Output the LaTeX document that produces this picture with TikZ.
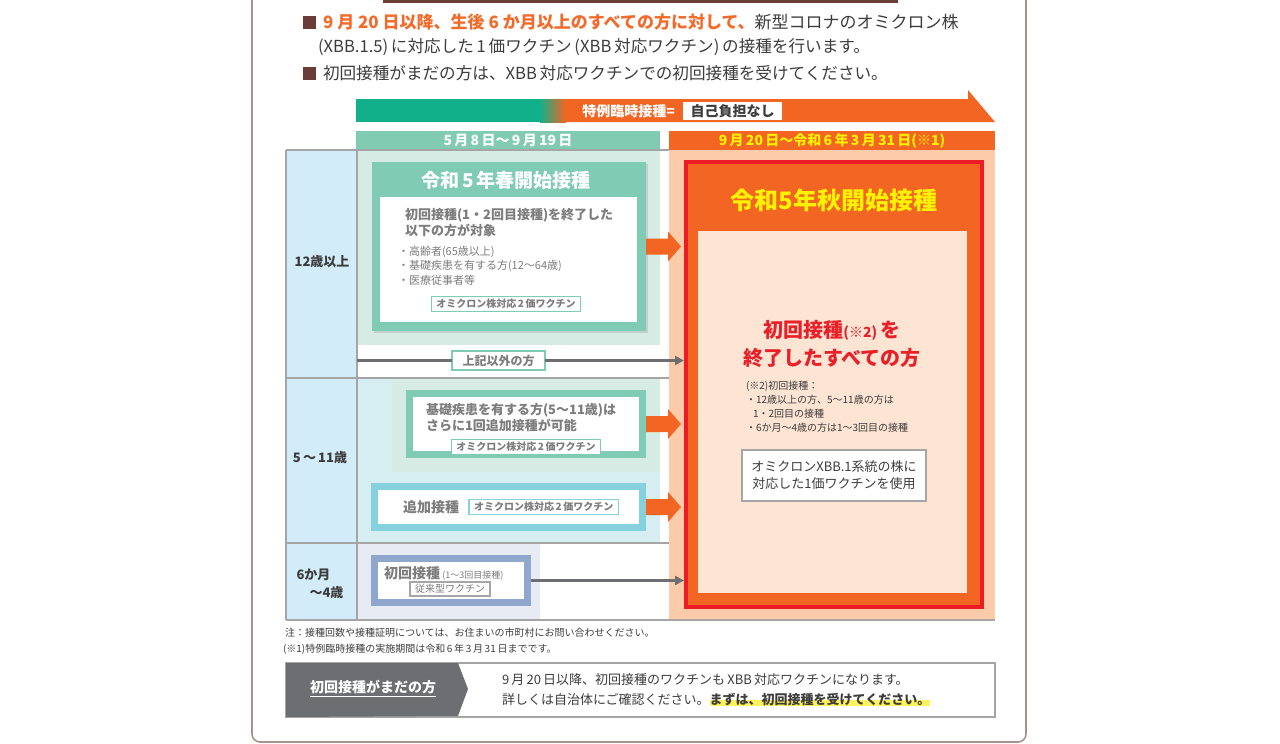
\documentclass[tikz,border=0pt]{standalone}
\usepackage{fontspec}
\setmainfont{Noto Sans CJK JP}
\usetikzlibrary{positioning,arrows.meta,shadows,backgrounds}

\definecolor{brownsq}{HTML}{6B3D38}
\definecolor{framebrown}{HTML}{A8928C}
\definecolor{hdorange}{HTML}{F26B2A}
\definecolor{txtdark}{HTML}{3C3C3C}
\definecolor{txtgrey}{HTML}{7D7D7D}
\definecolor{bandgreen}{HTML}{12B08A}
\definecolor{bandorange}{HTML}{F26522}
\definecolor{pergreen}{HTML}{80CBB2}
\definecolor{bggreen}{HTML}{D6EBE3}
\definecolor{boxgreen}{HTML}{80CBB4}
\definecolor{agecol}{HTML}{D2EDF9}
\definecolor{bgcyan}{HTML}{D6EEF2}
\definecolor{boxcyan}{HTML}{85D1DD}
\definecolor{bgblue}{HTML}{E7ECF4}
\definecolor{boxblue}{HTML}{8FA7CD}
\definecolor{peach}{HTML}{FCCBAA}
\definecolor{framered}{HTML}{ED1C24}
\definecolor{pale}{HTML}{FDE4D3}
\definecolor{gridgrey}{HTML}{A5A5A5}
\definecolor{sunyellow}{HTML}{FFF200}
\definecolor{labelgrey}{HTML}{6D6E71}
\definecolor{hilite}{HTML}{FFF35C}
\definecolor{redtext}{HTML}{E8202A}

\begin{document}
\begin{tikzpicture}[x=0.5pt,y=-0.5pt,
        every node/.style={inner sep=0pt,outer sep=0pt,text=txtdark},
        square/.style={fill=brownsq,minimum size=6.5pt},
        lead/.style={anchor=west,font=\fontsize{8.3}{10}\selectfont},
        band/.style={font=\bfseries\fontsize{7}{8}\selectfont},
        period/.style={minimum height=9.5pt,font=\bfseries\fontsize{7}{8}\selectfont},
        age/.style={font=\bfseries\fontsize{6.5}{9}\selectfont,align=left},
        plate/.style={drop shadow={shadow xshift=0.8pt,shadow yshift=-0.8pt,opacity=0.25}},
        framebox/.style={fill=white,line width=3.5pt,outer sep=1.75pt,plate},
        tag/.style={draw=#1,fill=white,line width=0.6pt,inner xsep=2.5pt,inner ysep=1.2pt,
        font=\bfseries\fontsize{5}{6}\selectfont,text=txtgrey},
        tag/.default=boxgreen,
        boxtext/.style={font=\bfseries\fontsize{6.5}{8}\selectfont,text=txtgrey,align=left},
        note/.style={font=\fontsize{5}{7}\selectfont,align=left},
        greyarr/.style={draw=labelgrey,line width=1.1pt,-{Triangle[length=4.5pt,width=4.5pt]}},
        fatarr/.pic={\fill[bandorange] (0,-8) -- (22,-8) -- (22,-15) -- (35,0) -- (22,15) -- (22,8) -- (0,8) -- cycle;}]

        \useasboundingbox (0,0) rectangle (1280,744);
        % Page frame
        \draw[framebrown,line width=0.8pt,rounded corners=4pt] (252,0) -- (252,742) -- (1026,742) -- (1026,0);
        \fill[brownsq] (383,0) rectangle (898,3);

        % Lead text
        \node[square] (sq1) at (309.5,22.5) {};
        \node[lead,font=\fontsize{8.5}{10}\selectfont] (lead1) at (323,22) {\textcolor{hdorange}{\bfseries 9 月 20 日以降、生後 6 か月以上のすべての方に対して、}新型コロナのオミクロン株};
        \node[lead] (lead2) at (318,47) {(XBB.1.5)\,に対応した\,1\,価ワクチン\,(XBB\,対応ワクチン)\,の接種を行います。};
        \node[square] (sq2) at (309.5,73) {};
        \node[lead] (lead3) at (323,73) {初回接種がまだの方は、XBB\,対応ワクチンでの初回接種を受けてください。};

        % Banner
        \fill[bandgreen] (356,99) rectangle (541,122);
        \shade[left color=bandgreen,right color=bandorange] (540,99) rectangle (566,122);
        \fill[bandorange] (565,99) -- (968,99) -- (968,90) -- (995,122) -- (565,122) -- cycle;
        \node[band,text=white,anchor=east] (special) at (675,111) {特例臨時接種=};
        \node[band,fill=white,minimum width=49.5pt,minimum height=9pt,right=4pt of special] (free) {自己負担なし};

        % Periods
        \node[period,fill=pergreen,minimum width=152pt,text=white] (springp) at (508,140.5) {5\,月\,8\,日～\,9\,月\,19\,日};
        \node[period,fill=bandorange,minimum width=163pt,text=sunyellow] (autumnp) at (832,140.5) {9\,月\,20\,日～令和\,6\,年\,3\,月\,31\,日(※1)};

        % Table
        \fill[agecol] (286,150) rectangle (357,620);
        \fill[bggreen] (357,150) rectangle (660,345);
        \fill[bgcyan] (357,378) rectangle (660,543);
        \fill[bggreen] (392,378) rectangle (660,472);
        \fill[bgblue] (357,543) rectangle (540,620);
        \fill[peach] (669,150) rectangle (995,620);
        \draw[gridgrey,line width=0.8pt] (286,150) -- (669,150) (286,620) -- (995,620)
        (286,150) -- (286,620) (357,150) -- (357,620) (286,378) -- (669,378) (286,543) -- (669,543);
        \coordinate (coledge) at (357,150);

        \node[age] (age12) at (322,262) {12歳以上};
        \node[age] (age5) at (320,458) {5\,～\,11歳};
        \node[age] (age0) at (320,584) {6か月\\\hspace*{1em}～4歳};

        % Spring round
        \node[fill=boxgreen,plate,minimum width=137pt,minimum height=84.5pt] (springbox) at (509,246.5) {};
        \node[font=\bfseries\fontsize{9.5}{10}\selectfont,text=white] (springttl) at (506,180) {令和\,5\,年春開始接種};
        \node[fill=white,minimum width=128.5pt,minimum height=62.5pt] (springin) at (508.5,259.5) {};
        \node[boxtext,anchor=north west] (target) at (405,208) {初回接種(1・2回目接種)を終了した\\以下の方が対象};
        \node[note,anchor=north west,font=\fontsize{5.5}{7.2}\selectfont,text=txtgrey] (targetlist) at (398,246) {・高齢者(65歳以上)\\・基礎疾患を有する方(12～64歳)\\・医療従事者等};
        \node[tag] (bivalent1) at (506,304) {オミクロン株対応\,2\,価ワクチン};

        \node[draw=boxgreen,fill=white,line width=0.6pt,minimum width=46.5pt,minimum height=9.5pt,
        font=\bfseries\fontsize{6}{7}\selectfont,text=txtgrey] (others) at (498.5,360.5) {上記以外の方};

        % 5-11
        \node[framebox,draw=boxgreen,minimum width=116.5pt,minimum height=30.5pt] (boosterbox) at (526,424) {};
        \node[boxtext,anchor=north west] (boostertxt) at (426,403) {基礎疾患を有する方(5～11歳)は\\さらに1回追加接種が可能};
        \node[tag] (bivalent2) at (526,447) {オミクロン株対応\,2\,価ワクチン};
        \node[framebox,draw=boxcyan,minimum width=134pt,minimum height=20.5pt] (addbox) at (508.5,507) {};
        \node[font=\bfseries\fontsize{7}{8}\selectfont,text=txtgrey] (addtxt) at (431,507) {追加接種};
        \node[tag=boxcyan,right=5pt of addtxt] (bivalent3) {オミクロン株対応\,2\,価ワクチン};

        % 6 months - 4
        \node[framebox,draw=boxblue,minimum width=76.5pt,minimum height=22pt] (primbox) at (451,580.5) {};
        \node[anchor=west,text=txtgrey] (primtxt) at (384,573) {\fontsize{7}{8}\selectfont\bfseries 初回接種\,{\fontsize{4.5}{5}\selectfont\mdseries (1～3回目接種)}};
        \node[tag=gray!70,font=\fontsize{5}{6}\selectfont] (conventional) at (450,589) {従来型ワクチン};

        % Autumn round
        \node[draw=framered,fill=bandorange,line width=2pt,outer sep=1pt,minimum width=148pt,minimum height=222.5pt] (autumn) at (834,384.5) {};
        \node[font=\bfseries\fontsize{12}{13}\selectfont,text=sunyellow] (autumnttl) at (834,200) {令和5年秋開始接種};
        \node[fill=pale,minimum width=134.5pt,minimum height=181pt] (autumnin) at (832.5,412) {};
        \node[align=center,text=redtext,font=\bfseries\fontsize{10}{14}\selectfont] (everyone) at (832,344) {初回接種{\fontsize{7}{8}\selectfont (※2)}\,を\\終了したすべての方};
        \node[note,anchor=north west] (footnote2) at (746,381) {(※2)初回接種：\\・12歳以上の方、5～11歳の方は\\\hspace*{0.7em}1・2回目の接種\\・6か月～4歳の方は1～3回目の接種};
        \node[draw=gray!70,fill=white,line width=0.6pt,minimum width=92pt,minimum height=25.5pt,align=center,
        font=\fontsize{6.5}{8.5}\selectfont] (xbbbox) at (834,475.5) {オミクロンXBB.1系統の株に\\対応した1価ワクチンを使用};

        % Arrows
        \path (springbox.east) pic{fatarr};
        \path (boosterbox.east) pic{fatarr};
        \path (addbox.east) pic{fatarr};
        \draw[labelgrey,line width=1.1pt] (coledge|-others) -- (others.west);
        \draw[greyarr] (others.east) -- (autumn.west|-others);
        \draw[greyarr] (primbox.east) -- (autumn.west|-primbox.east);

        % Notes
        \node[note,anchor=west] (note1) at (285,633) {注：接種回数や接種証明については、お住まいの市町村にお問い合わせください。};
        \node[note,anchor=west] (note2) at (283,649) {(※1)特例臨時接種の実施期間は令和\,6\,年\,3\,月\,31\,日までです。};

        % Not yet vaccinated
        \node[draw=gridgrey,line width=0.8pt,minimum width=354.5pt,minimum height=27pt] (notyet) at (640.5,690) {};
        \fill[labelgrey] (notyet.north west) -- ++(172,0) -- ++(10,26) -- ++(-10,27) -- (notyet.south west) -- cycle;
        \node[text=white,font=\bfseries\fontsize{7}{8}\selectfont] (notyetlbl) at (373,689) {\underline{初回接種がまだの方}};
        \node[lead,font=\fontsize{6.5}{8}\selectfont] (xbbnews) at (502,680) {9\,月\,20\,日以降、初回接種のワクチンも\,XBB\,対応ワクチンになります。};
        \node[lead,font=\fontsize{6.5}{8}\selectfont] (detail) at (502,700) {詳しくは自治体にご確認ください。};
        \node[anchor=west,font=\bfseries\fontsize{6.5}{8}\selectfont] (firstdose) at (detail.east) {まずは、初回接種を受けてください。};
        \begin{scope}[on background layer]
        \fill[hilite] (firstdose.west) rectangle (firstdose.south east);
        \end{scope}

    \end{tikzpicture}
\end{document}
